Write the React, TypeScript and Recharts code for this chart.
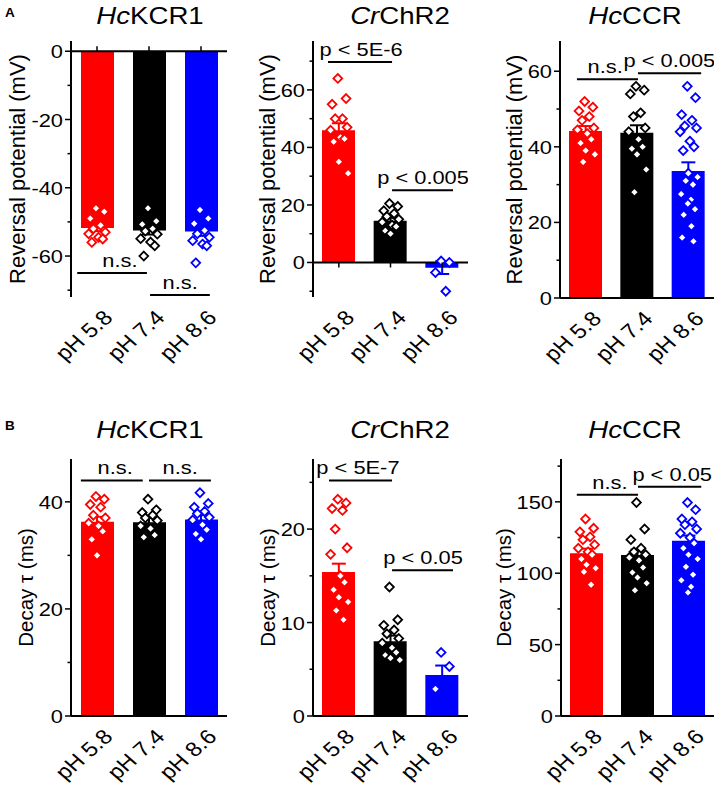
import { Bar, Cell, ComposedChart, ErrorBar, ReferenceLine, Scatter, XAxis, YAxis } from "recharts"

const PH = ["pH 5.8", "pH 7.4", "pH 8.6"]
const COLORS = ["#ff0000", "#000000", "#0000ff"]

// A — reversal potential (mV)
const KCR1_EREV_MEAN = [-51.8, -52.5, -52.8]
const KCR1_EREV_SEM = [0.9, 1.2, 1.3]
const KCR1_EREV_58 = [-46, -47, -49, -51, -52, -53, -53.5, -54.5, -55, -56]
const KCR1_EREV_74 = [-46, -49.8, -50.7, -52, -52.7, -53.6, -54.9, -55.9, -57, -60]
const KCR1_EREV_86 = [-46.5, -49, -50.5, -52.5, -53.5, -54.5, -55.5, -56.5, -57, -62]

const CHR2_EREV_MEAN = [46, 14.5, -1.8]
const CHR2_EREV_SEM = [2.4, 1.0, 2.2]
const CHR2_EREV_58 = [64, 57, 55, 50, 50, 47, 46, 43.5, 43, 42, 35, 31]
const CHR2_EREV_74 = [20.5, 19.5, 18, 17, 16, 15, 14, 13, 12.5, 11, 10]
const CHR2_EREV_86 = [0.5, 0, -3.5, -10]

const CCR_EREV_MEAN = [44.2, 43.7, 33.6]
const CCR_EREV_SEM = [1.3, 2.0, 2.3]
const CCR_EREV_58 = [52, 50.5, 49.5, 48, 47, 45, 44.5, 43.5, 42, 41, 39, 38, 36]
const CCR_EREV_74 = [56, 55, 54, 49, 48, 45, 44, 42, 40, 39.5, 38, 34, 28]
const CCR_EREV_86 = [56, 53, 48.5, 47, 45.5, 45, 44, 41.5, 40, 39, 33, 32, 31, 30, 27.5, 26, 25, 23.5, 22, 19, 16, 15]

// B — decay tau (ms)
const KCR1_TAU_MEAN = [36.3, 36.2, 36.7]
const KCR1_TAU_SEM = [0.9, 0.8, 0.8]
const KCR1_TAU_58 = [41, 40.5, 39.5, 39, 37.5, 37, 36, 35.5, 34.5, 33, 30]
const KCR1_TAU_74 = [40.5, 38.5, 38, 37.5, 37, 36.5, 35.5, 35, 33.8, 33.4]
const KCR1_TAU_86 = [41.7, 39.7, 39, 38.2, 37.8, 37.1, 36.6, 35.7, 34.8, 34, 33]

const CHR2_TAU_MEAN = [15.4, 8.0, 4.4]
const CHR2_TAU_SEM = [0.9, 0.6, 1.0]
const CHR2_TAU_58 = [23.2, 22.8, 22.2, 22, 20, 18, 17.3, 15, 14.3, 13.5, 12.7, 12.2, 11.3, 10.3]
const CHR2_TAU_74 = [13.8, 10.3, 9.7, 9.2, 8.8, 8.3, 7.8, 7.3, 6.8, 6.5, 6.2, 6.0]
const CHR2_TAU_86 = [6.8, 5.3, 2.9]

const CCR_TAU_MEAN = [114, 112.7, 122.8]
const CCR_TAU_SEM = [3.2, 3.8, 3.6]
const CCR_TAU_58 = [138, 131.5, 129, 125.5, 123.5, 120, 117.5, 115, 113, 110, 106, 103.5, 101, 92]
const CCR_TAU_74 = [149.5, 131, 123.5, 117.5, 115, 113, 111, 109, 104, 100.5, 97, 93, 88]
const CCR_TAU_86 = [149.5, 144.5, 138, 136, 134, 131, 128, 125, 121, 117.5, 113, 110, 104.5, 99, 95, 90.5, 86.5]

const FONT = '"Liberation Sans", Arial, Helvetica, sans-serif'
// glyphs in the figure are a bit wider than Arial
const SX = 1.15
// horizontal spread of the points, in category widths
const JIT = [-0.02, 0.14, -0.13, 0.07, -0.07, 0.16, -0.16, 0.03, 0.11, -0.1, 0, 0.18, -0.05, 0.09, -0.14, 0.05, -0.01, 0.13, -0.09, 0.06, -0.12, 0.1]

const YW = 75
const MT = 45
const MR = 11
const XH = 75

interface Bracket {
  from: number
  to: number
  y: number
  text: string
  at: number
}

interface PanelSpec {
  title: [string, string]
  yLabel: string
  yLabelSize: number
  mean: number[]
  sem: number[]
  points: number[][]
  domain: [number, number]
  ticks: number[]
  minor: number[]
  brackets: Bracket[]
  tickUp?: boolean
  left: number
  right: number
  top: number
  bottom: number
  labelGap: number
  titleX: number
  titleY: number
}

const EREV = "Reversal potential (mV)"
const TAU = "Decay τ (ms)"

const PANELS: PanelSpec[] = [
  {
    title: ["Hc", "KCR1"], yLabel: EREV, yLabelSize: 22,
    mean: KCR1_EREV_MEAN, sem: KCR1_EREV_SEM, points: [KCR1_EREV_58, KCR1_EREV_74, KCR1_EREV_86],
    domain: [-72, 3], ticks: [0, -20, -40, -60], minor: [-10, -30, -50, -70],
    brackets: [
      { from: -0.38, to: 0.96, y: -65, text: "n.s.", at: 0.44 },
      { from: 1.02, to: 2.17, y: -71.4, text: "n.s.", at: 1.6 },
    ],
    tickUp: true,
    left: 71, right: 227, top: 41, bottom: 297, labelGap: 54, titleX: 150, titleY: 23,
  },
  {
    title: ["Cr", "ChR2"], yLabel: EREV, yLabelSize: 22,
    mean: CHR2_EREV_MEAN, sem: CHR2_EREV_SEM, points: [CHR2_EREV_58, CHR2_EREV_74, CHR2_EREV_86],
    domain: [-12, 77], ticks: [0, 20, 40, 60], minor: [-10, 10, 30, 50, 70],
    brackets: [
      { from: -0.21, to: 1.03, y: 69.7, text: "p < 5E-6", at: 0.43 },
      { from: 1.03, to: 2.21, y: 25.1, text: "p < 0.005", at: 1.63 },
    ],
    left: 313, right: 468, top: 41, bottom: 297, labelGap: 46, titleX: 400, titleY: 23,
  },
  {
    title: ["Hc", "CCR"], yLabel: EREV, yLabelSize: 22,
    mean: CCR_EREV_MEAN, sem: CCR_EREV_SEM, points: [CCR_EREV_58, CCR_EREV_74, CCR_EREV_86],
    domain: [0, 68], ticks: [0, 20, 40, 60], minor: [10, 30, 50],
    brackets: [
      { from: -0.17, to: 1.02, y: 57.9, text: "n.s.", at: 0.38 },
      { from: 1.02, to: 2.25, y: 59.5, text: "p < 0.005", at: 1.63 },
    ],
    left: 560, right: 714, top: 41, bottom: 298, labelGap: 46, titleX: 635, titleY: 23,
  },
  {
    title: ["Hc", "KCR1"], yLabel: TAU, yLabelSize: 20.5,
    mean: KCR1_TAU_MEAN, sem: KCR1_TAU_SEM, points: [KCR1_TAU_58, KCR1_TAU_74, KCR1_TAU_86],
    domain: [0, 48], ticks: [0, 20, 40], minor: [10, 30],
    brackets: [
      { from: -0.31, to: 0.88, y: 44, text: "n.s.", at: 0.35 },
      { from: 1.0, to: 2.19, y: 44, text: "n.s.", at: 1.6 },
    ],
    left: 71, right: 227, top: 459, bottom: 716, labelGap: 46, titleX: 150, titleY: 437,
  },
  {
    title: ["Cr", "ChR2"], yLabel: TAU, yLabelSize: 20.5,
    mean: CHR2_TAU_MEAN, sem: CHR2_TAU_SEM, points: [CHR2_TAU_58, CHR2_TAU_74, CHR2_TAU_86],
    domain: [0, 27.5], ticks: [0, 10, 20], minor: [5, 15, 25],
    brackets: [
      { from: -0.19, to: 1.03, y: 25.2, text: "p < 5E-7", at: 0.37 },
      { from: 1.03, to: 2.21, y: 15.6, text: "p < 0.05", at: 1.63 },
    ],
    left: 313, right: 468, top: 459, bottom: 716, labelGap: 46, titleX: 400, titleY: 437,
  },
  {
    title: ["Hc", "CCR"], yLabel: TAU, yLabelSize: 20.5,
    mean: CCR_TAU_MEAN, sem: CCR_TAU_SEM, points: [CCR_TAU_58, CCR_TAU_74, CCR_TAU_86],
    domain: [0, 180], ticks: [0, 50, 100, 150], minor: [25, 75, 125, 175],
    brackets: [
      { from: -0.19, to: 1.01, y: 154.9, text: "n.s.", at: 0.46 },
      { from: 1.01, to: 2.25, y: 160.5, text: "p < 0.05", at: 1.68 },
    ],
    left: 561, right: 714, top: 459, bottom: 716, labelGap: 58, titleX: 635, titleY: 437,
  },
]

function YTick({ x, y, payload, major }: any) {
  const isMajor = major.includes(payload.value)
  return (
    <g>
      <line x1={x - (isMajor ? 6 : 3.5)} x2={x} y1={y} y2={y} stroke="#000" strokeWidth={1.5} />
      {isMajor && (
        <text
          transform={`translate(${x - 8} ${y + 7}) scale(${SX} 1)`}
          textAnchor="end"
          fontSize={19}
          fontFamily={FONT}
          fill="#000"
        >
          {payload.value}
        </text>
      )}
    </g>
  )
}

function XTick({ x, y, payload }: any) {
  return (
    <text
      transform={`translate(${x + 17} ${y + 22}) scale(${SX} 1) rotate(-45)`}
      textAnchor="end"
      fontSize={20.5}
      fontFamily={FONT}
      fill="#000"
    >
      {payload.value}
    </text>
  )
}

function diamond(color: string) {
  return (props: any) => {
    const { cx, cy } = props
    const r = 4.4
    return (
      <polygon
        points={`${cx},${cy - r} ${cx + r},${cy} ${cx},${cy + r} ${cx - r},${cy}`}
        fill="#fff"
        stroke={color}
        strokeWidth={1.8}
      />
    )
  }
}

function bracketText(text: string) {
  return (s: any) => (
    <text
      transform={`translate(${s.cx} ${s.cy - 6}) scale(${SX} 1)`}
      textAnchor="middle"
      fontSize={19}
      fontFamily={FONT}
      fill="#000"
    >
      {text}
    </text>
  )
}

function Panel({ p }: { p: PanelSpec }) {
  const plotH = p.bottom - p.top
  const w = p.right - p.left + YW + MR
  const h = plotH + MT + XH
  const barData = PH.map((name, i) => ({ name, v: p.mean[i] }))
  const zeroTicks = PH.map((_, i) => ({ x: i, y: 0 }))
  const dir = p.tickUp ? -1 : 1

  return (
    <div style={{ position: "absolute", left: p.left - YW, top: p.top - MT }}>
      <ComposedChart
        width={w}
        height={h}
        data={barData}
        margin={{ top: MT, right: MR, bottom: 0, left: 0 }}
        style={{ overflow: "visible" }}
      >
        <XAxis
          dataKey="name"
          axisLine={false}
          tickLine={false}
          tickSize={0}
          tickMargin={0}
          height={XH}
          interval={0}
          tick={<XTick />}
        />
        <XAxis xAxisId="n" type="number" dataKey="x" domain={[-0.5, 2.5]} allowDataOverflow hide />
        <YAxis
          width={YW}
          domain={p.domain}
          allowDataOverflow
          ticks={[...p.ticks, ...p.minor]}
          interval={0}
          tickLine={false}
          tickSize={0}
          tickMargin={0}
          axisLine={{ stroke: "#000", strokeWidth: 2 }}
          tick={<YTick major={p.ticks} />}
          label={(lp: any) => {
            const vb = lp.viewBox ?? { x: 0, y: MT, width: YW, height: plotH }
            const cx = vb.x + vb.width - p.labelGap
            const cy = vb.y + vb.height / 2
            return (
              <text
                transform={`translate(${cx} ${cy}) rotate(-90)`}
                textAnchor="middle"
                dominantBaseline="central"
                fontSize={p.yLabelSize}
                fontFamily={FONT}
                fill="#000"
              >
                {p.yLabel}
              </text>
            )
          }}
        />
        <Bar dataKey="v" barSize={33} isAnimationActive={false}>
          {COLORS.map((c) => (
            <Cell key={c} fill={c} />
          ))}
        </Bar>
        <ReferenceLine y={0} stroke="#000" strokeWidth={2} />
        {p.mean.map((m, i) => (
          <Scatter
            key={`err${i}`}
            xAxisId="n"
            dataKey="y"
            data={[{ x: i, y: m, e: p.sem[i] }]}
            shape={() => <g />}
            isAnimationActive={false}
          >
            <ErrorBar dataKey="e" direction="y" width={7} stroke={COLORS[i]} strokeWidth={2} isAnimationActive={false} />
          </Scatter>
        ))}
        {p.points.map((vals, i) => (
          <Scatter
            key={`pts${i}`}
            xAxisId="n"
            dataKey="y"
            data={vals.map((v, j) => ({ x: i + JIT[j % JIT.length], y: v }))}
            shape={diamond(COLORS[i])}
            isAnimationActive={false}
          />
        ))}
        <Scatter
          xAxisId="n"
          dataKey="y"
          data={zeroTicks}
          shape={(s: any) => <line x1={s.cx} x2={s.cx} y1={s.cy} y2={s.cy + dir * 5} stroke="#000" strokeWidth={1.5} />}
          isAnimationActive={false}
        />
        {p.brackets.map((b, k) => (
          <ReferenceLine
            key={`br${k}`}
            xAxisId="n"
            segment={[{ x: b.from, y: b.y }, { x: b.to, y: b.y }]}
            stroke="#000"
            strokeWidth={2}
            ifOverflow="visible"
          />
        ))}
        {p.brackets.map((b, k) => (
          <Scatter
            key={`bt${k}`}
            xAxisId="n"
            dataKey="y"
            data={[{ x: b.at, y: b.y }]}
            shape={bracketText(b.text)}
            isAnimationActive={false}
          />
        ))}
      </ComposedChart>
    </div>
  )
}

export default function App() {
  return (
    <div
      style={{
        position: "absolute",
        left: 0,
        top: 0,
        width: 725,
        height: 792,
        background: "#fff",
        fontFamily: FONT,
      }}
    >
      {PANELS.map((p, k) => (
        <Panel key={k} p={p} />
      ))}
      {PANELS.map((p, k) => (
        <div
          key={`t${k}`}
          style={{
            position: "absolute",
            left: p.titleX - 100,
            width: 200,
            top: p.titleY - 19,
            textAlign: "center",
            fontSize: 24,
            lineHeight: "24px",
            transform: `scaleX(${SX})`,
          }}
        >
          <i>{p.title[0]}</i>
          {p.title[1]}
        </div>
      ))}
      <svg width={40} height={440} style={{ position: "absolute", left: 0, top: 0, zIndex: 2 }}>
        <text x={5} y={17} fontSize={13.5} fontWeight="bold" fontFamily={FONT} fill="#000">
          A
        </text>
        <text x={5} y={430} fontSize={13.5} fontWeight="bold" fontFamily={FONT} fill="#000">
          B
        </text>
      </svg>
    </div>
  )
}
